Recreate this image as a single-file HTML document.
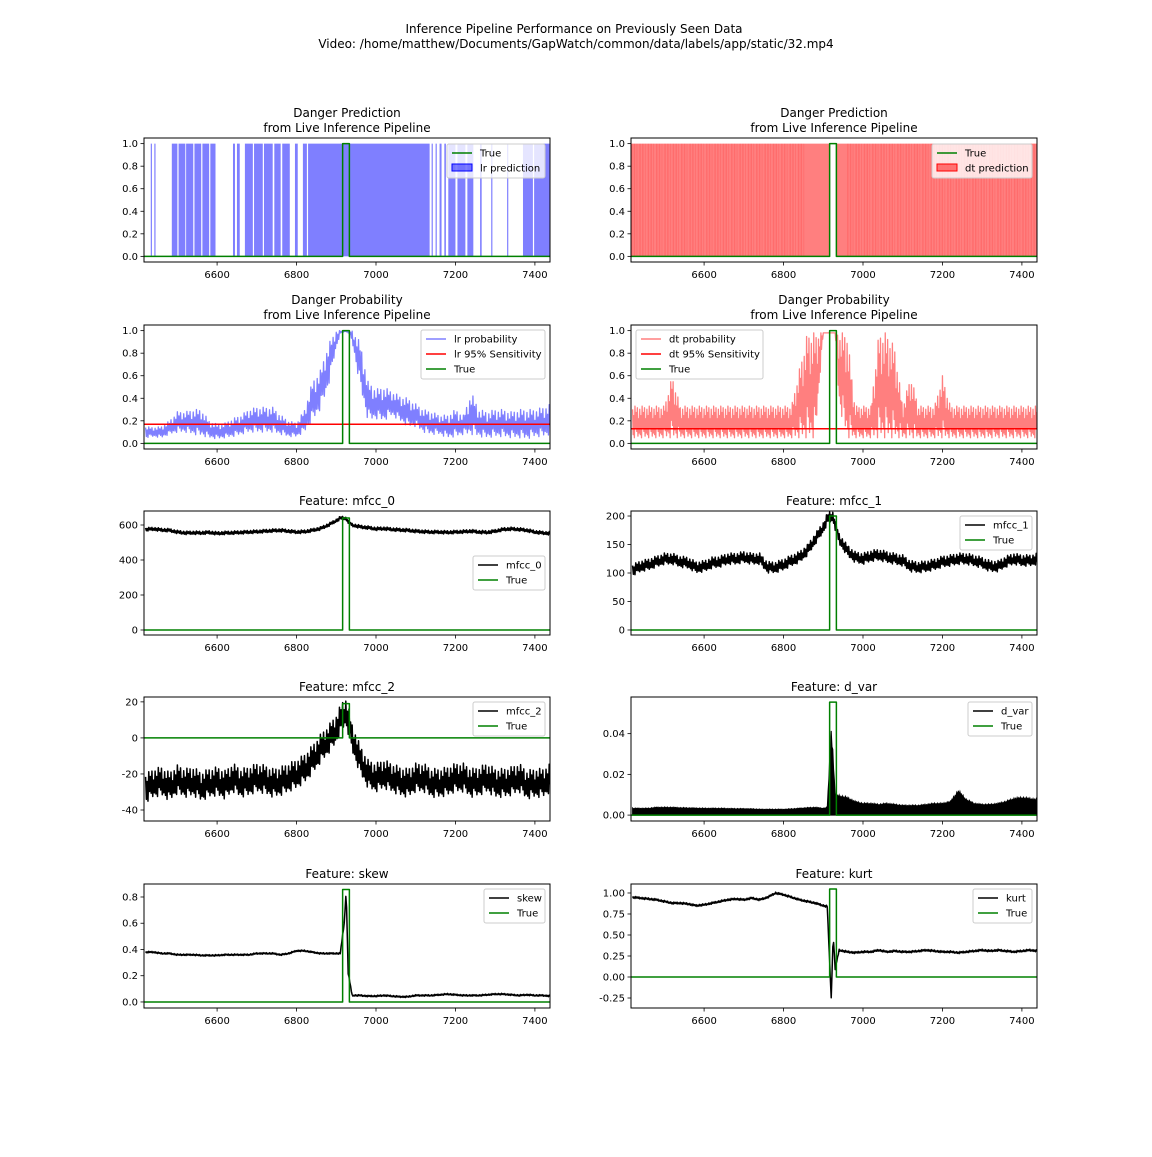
<!DOCTYPE html>
<html><head><meta charset="utf-8">
<style>
body{margin:0;background:#fff;}
svg text{font-family:"DejaVu Sans","Liberation Sans",sans-serif;fill:#000;}
</style></head>
<body>
<svg id="fig" width="1152" height="1152" viewBox="0 0 1152 1152" xmlns="http://www.w3.org/2000/svg">
<rect width="1152" height="1152" fill="#fff"/>
<text x="574" y="33" font-size="12" text-anchor="middle">Inference Pipeline Performance on Previously Seen Data</text>
<text x="576" y="48" font-size="12" text-anchor="middle">Video: /home/matthew/Documents/GapWatch/common/data/labels/app/static/32.mp4</text>
</svg>
<script>
const frames = [6420,6440,6460,6480,6500,6520,6540,6560,6580,6600,6620,6640,6660,6680,6700,6720,6740,6760,6780,6800,6820,6840,6860,6880,6900,
 6910,6920,6925,6930,
 6940,6960,6980,7000,7020,7040,7060,7080,7100,7120,7140,7160,7180,7200,7220,7240,7260,7280,7300,7320,7340,7360,7380,7400,7420,7440];
const trueStart = 6916, trueEnd = 6933;
const xTicks = [6600,6800,7000,7200,7400];
const lrSpans = [[6433,6436],[6442,6445],[6486,6500],[6503,6520],[6522,6540],[6543,6560],[6563,6580],[6583,6596],[6640,6645],[6650,6657],[6670,6690],[6693,6715],[6718,6740],[6744,6760],[6764,6783],[6796,6803],[6816,6826],[6829,7135],[7140,7143],[7150,7153],[7160,7165],[7172,7176],[7182,7200],[7205,7225],[7230,7245],[7262,7266],[7290,7293],[7330,7333],[7370,7395],[7398,7438]];
const dtSpans = [[6416,6916],[6933,7438]];
const dtDenseSpans = [[6416,6855],[6960,7438]];
const lrProbLo = [.05,.06,.05,.08,.1,.1,.08,.07,.05,.04,.05,.06,.08,.1,.1,.1,.1,.08,.06,.06,.1,.2,.3,.5,.85, .97,.99,.99,.98,
 .9,.5,.2,.22,.2,.25,.2,.15,.15,.1,.08,.08,.05,.06,.08,.08,.06,.05,.06,.06,.05,.05,.04,.06,.06,.08];
const lrProbHi = [.15,.14,.15,.2,.28,.28,.3,.3,.2,.17,.18,.22,.25,.3,.32,.32,.32,.25,.2,.18,.3,.55,.65,.88,1.0, 1,1,1,1,
 1,.9,.55,.48,.5,.46,.42,.4,.35,.3,.28,.25,.25,.3,.25,.45,.3,.28,.3,.3,.28,.3,.3,.3,.32,.35];
const lrSens = 0.17;
const dtProbLo = [.05,.05,.05,.05,.05,.05,.05,.05,.05,.05,.05,.05,.05,.05,.05,.05,.05,.05,.05,.05,.05,.05,.05,.05,.98, .98,.98,.98,.98,
 .33,.05,.05,.05,.05,.05,.05,.05,.05,.05,.05,.05,.05,.05,.05,.05,.05,.05,.05,.05,.05,.05,.05,.05,.05,.05];
const dtProbHi = [.33,.33,.33,.33,.33,.6,.33,.33,.33,.33,.33,.33,.33,.33,.33,.33,.33,.33,.33,.33,.33,.66,.98,.98,.98, .98,.98,.98,.98,
 .98,.98,.33,.33,.33,.98,.98,.85,.33,.6,.33,.33,.33,.6,.33,.33,.33,.33,.33,.33,.33,.33,.33,.33,.33,.33];
const dtSens = 0.13;
const mfcc0 = [575,578,572,570,560,555,556,555,558,552,555,556,558,560,562,565,568,570,565,560,562,570,580,600,625, 640,640,635,620,
 600,590,585,578,580,575,572,570,565,562,560,560,558,560,562,565,560,558,565,575,578,575,570,560,555,552];
const mfcc1 = [105,112,115,120,125,125,120,118,110,112,118,120,125,125,128,125,125,110,110,115,122,128,140,160,180, 195,200,198,185,
 160,140,128,125,130,132,128,125,122,112,110,112,115,120,122,125,125,122,118,112,112,120,125,122,122,125];
const mfcc2 = [-28,-25,-24,-27,-23,-25,-24,-27,-25,-24,-26,-22,-25,-24,-22,-23,-25,-24,-22,-20,-17,-12,-6,-1,5, 10,14,14,10,
 0,-12,-20,-22,-20,-22,-24,-25,-22,-22,-25,-25,-24,-22,-22,-25,-24,-22,-25,-25,-24,-22,-26,-25,-25,-22];
const dvar = [.0035,.0035,.0035,.004,.004,.004,.0038,.0037,.0036,.0035,.0035,.0035,.0034,.0033,.0033,.0032,.003,.003,.003,.003,.0032,.0035,.0038,.004,.0035, .004,.044,.03,.01,
 .01,.009,.007,.006,.006,.0055,.006,.0055,.005,.005,.005,.0055,.006,.006,.007,.0125,.008,.006,.0055,.0055,.006,.007,.0085,.009,.0085,.008];
const skew = [.38,.38,.37,.37,.36,.36,.36,.355,.355,.355,.36,.36,.36,.36,.37,.37,.37,.36,.37,.39,.39,.38,.37,.37,.37, .37,.6,.85,.22,
 .05,.05,.045,.045,.05,.045,.04,.04,.05,.05,.05,.055,.06,.055,.05,.05,.05,.055,.06,.06,.055,.05,.055,.05,.05,.045];
const kurt = [.95,.94,.93,.92,.9,.88,.88,.87,.85,.86,.88,.9,.92,.93,.92,.94,.92,.95,1.0,.98,.95,.92,.9,.88,.85, .84,-.25,.5,.1,
 .32,.3,.29,.3,.3,.32,.3,.31,.3,.3,.31,.32,.31,.3,.3,.29,.3,.31,.32,.31,.32,.31,.3,.31,.32,.31];

const NS='http://www.w3.org/2000/svg';
const svg=document.getElementById('fig');
const pattern=[0.9,0.1,0.7,0.0,1.0,0.3,0.8,0.2,0.95,0.05,0.6,0.15];
function mk(tag,attrs,parent){const e=document.createElementNS(NS,tag);for(const k in attrs)e.setAttribute(k,attrs[k]);(parent||svg).appendChild(e);return e;}
function lerpArr(arr,x){for(let i=0;i<frames.length-1;i++){if(x<=frames[i+1]){const t=(x-frames[i])/(frames[i+1]-frames[i]);return arr[i]+(arr[i+1]-arr[i])*t;}}return arr[arr.length-1];}
function noisePts(lo,hi,step){const pts=[];let k=0;for(let x=frames[0];x<=frames[frames.length-1];x+=step){const a=lerpArr(lo,x),b=lerpArr(hi,x);pts.push([x,a+(b-a)*pattern[k%pattern.length]]);k++;}return pts;}

function makeAxes(cfg){
  const g=mk('g',{});
  
  
  const X0=cfg.x,X1=cfg.x+406,Y0=cfg.y,Y1=cfg.y+124;
  const xmin=6416,xmax=7438;
  const sx=v=>X0+(v-xmin)/(xmax-xmin)*(X1-X0);
  const sy=v=>Y1-(v-cfg.ymin)/(cfg.ymax-cfg.ymin)*(Y1-Y0);
  const clipId='clip-'+cfg.name;
  const cp=mk('clipPath',{id:clipId},g);mk('rect',{x:X0,y:Y0,width:X1-X0,height:Y1-Y0},cp);
  const plot=mk('g',{'clip-path':'url(#'+clipId+')'},g);
  
  
  return {g,plot,sx,sy,X0,X1,Y0,Y1,cfg};
}
function line(ax,pts,color,w,name){
  const d=pts.map((p,i)=>(i?'L':'M')+ax.sx(p[0]).toFixed(2)+' '+ax.sy(p[1]).toFixed(2)).join(' ');
  const p=mk('path',{d,fill:'none',stroke:color,'stroke-width':w,'stroke-linejoin':'round'},ax.plot);
  
  
  return p;
}
function truePts(top){return [[6416,0],[trueStart,0],[trueStart,top],[trueEnd,top],[trueEnd,0],[7438,0]];}
function finish(ax,title,yticks,yfmt,legend){
  const {g,sx,sy,X0,X1,Y0,Y1}=ax;
  const fr=mk('rect',{x:X0,y:Y0,width:X1-X0,height:Y1-Y0,fill:'none',stroke:'#000','stroke-width':1},g);
  
  
  xTicks.forEach(v=>{const x=sx(v);mk('line',{x1:x,x2:x,y1:Y1,y2:Y1+3.5,stroke:'#000','stroke-width':0.8},g);
    const t=mk('text',{x:x,y:Y1+16,'font-size':10,'text-anchor':'middle'},g);t.textContent=v;
    
    });
  yticks.forEach(v=>{const y=sy(v);mk('line',{x1:X0,x2:X0-3.5,y1:y,y2:y,stroke:'#000','stroke-width':0.8},g);
    const t=mk('text',{x:X0-6,y:y+3.5,'font-size':10,'text-anchor':'end'},g);t.textContent=yfmt(v);
    
    });
  const cx=(X0+X1)/2;
  title.forEach((s,i)=>{const t=mk('text',{x:cx,y:Y0-6-(title.length-1-i)*15,'font-size':12,'text-anchor':'middle'},g);t.textContent=s;
    
    });
  const L=legend;
  const h=legend.items.length*15+4;
  const lg=mk('g',{},g);
  
  
  mk('rect',{x:L.x,y:L.y,width:L.w,height:h,rx:2,fill:'rgba(255,255,255,0.8)',stroke:'#cccccc','stroke-width':1},lg);
  L.items.forEach((it,i)=>{const cy=L.y+9+i*15;
    if(it.patch){mk('rect',{x:L.x+5,y:cy-4,width:20,height:7,fill:it.color,stroke:it.edge,'stroke-width':1},lg);}
    else mk('line',{x1:L.x+5,x2:L.x+25,y1:cy,y2:cy,stroke:it.color,'stroke-width':1.5},lg);
    const t=mk('text',{x:L.x+33,y:cy+3.5,'font-size':10},lg);t.textContent=it.label;
    
    });
}
const f1=v=>v.toFixed(1), f0=v=>String(v), f2=v=>v.toFixed(2);
const G='#008000';
const probTicks=[0,0.2,0.4,0.6,0.8,1.0];

// Row 1 left: lr prediction
let ax=makeAxes({name:'lr-prediction-panel',x:144,y:138,ymin:-0.05,ymax:1.05});
lrSpans.forEach(s=>{const r=mk('rect',{x:ax.sx(s[0]),y:ax.sy(1),width:Math.max(0.8,ax.sx(s[1])-ax.sx(s[0])),height:ax.sy(0)-ax.sy(1),fill:'rgba(0,0,255,0.5)'},ax.plot);
 
 });
line(ax,truePts(1),G,1.5,'true-line');
finish(ax,['Danger Prediction','from Live Inference Pipeline'],probTicks,f1,{x:447,y:144,w:98,items:[{label:'True',color:G},{label:'lr prediction',color:'rgba(0,0,255,0.5)',edge:'#0000ff',patch:1}]});

// Row 1 right: dt prediction
ax=makeAxes({name:'dt-prediction-panel',x:631,y:138,ymin:-0.05,ymax:1.05});
dtSpans.forEach(s=>{const r=mk('rect',{x:ax.sx(s[0]),y:ax.sy(1),width:ax.sx(s[1])-ax.sx(s[0]),height:ax.sy(0)-ax.sy(1),fill:'rgba(255,0,0,0.5)'},ax.plot);
 
 });
dtDenseSpans.forEach(s=>{for(let x=s[0];x<s[1];x+=7){const w=(x/7)%3<1?0.8:1.4;const r=mk('rect',{x:ax.sx(x),y:ax.sy(1),width:w,height:ax.sy(0)-ax.sy(1),fill:'rgba(255,0,0,0.15)'},ax.plot);
 
 }});
line(ax,truePts(1),G,1.5,'true-line');
finish(ax,['Danger Prediction','from Live Inference Pipeline'],probTicks,f1,{x:932,y:144,w:100,items:[{label:'True',color:G},{label:'dt prediction',color:'rgba(255,0,0,0.5)',edge:'#ff0000',patch:1}]});

// Row 2 left: lr probability
ax=makeAxes({name:'lr-probability-panel',x:144,y:325,ymin:-0.05,ymax:1.05});
line(ax,noisePts(lrProbLo,lrProbHi,2),'rgba(0,0,255,0.5)',1.3,'lr-probability-line');
line(ax,[[6416,lrSens],[7438,lrSens]],'#ff0000',1.5,'lr-sensitivity-line');
line(ax,truePts(1),G,1.5,'true-line');
finish(ax,['Danger Probability','from Live Inference Pipeline'],probTicks,f1,{x:421,y:330,w:124,items:[{label:'lr probability',color:'rgba(0,0,255,0.5)'},{label:'lr 95% Sensitivity',color:'#ff0000'},{label:'True',color:G}]});

// Row 2 right: dt probability
ax=makeAxes({name:'dt-probability-panel',x:631,y:325,ymin:-0.05,ymax:1.05});
line(ax,noisePts(dtProbLo,dtProbHi,1.5),'rgba(255,0,0,0.5)',1.3,'dt-probability-line');
line(ax,[[6416,dtSens],[7438,dtSens]],'#ff0000',1.5,'dt-sensitivity-line');
line(ax,truePts(1),G,1.5,'true-line');
finish(ax,['Danger Probability','from Live Inference Pipeline'],probTicks,f1,{x:636,y:330,w:127,items:[{label:'dt probability',color:'rgba(255,0,0,0.5)'},{label:'dt 95% Sensitivity',color:'#ff0000'},{label:'True',color:G}]});

function band(arr,amp){return [arr.map(v=>v-amp),arr.map(v=>v+amp)];}

// mfcc_0
ax=makeAxes({name:'mfcc0-panel',x:144,y:511,ymin:-28.6,ymax:680});
let b=band(mfcc0,10);line(ax,noisePts(b[0],b[1],2),'#000',1.5,'mfcc0-line');
line(ax,truePts(640),G,1.5,'true-line');
finish(ax,['Feature: mfcc_0'],[0,200,400,600],f0,{x:473,y:556,w:72,items:[{label:'mfcc_0',color:'#000'},{label:'True',color:G}]});

// mfcc_1
ax=makeAxes({name:'mfcc1-panel',x:631,y:511,ymin:-8.8,ymax:208.8});
b=band(mfcc1,10);line(ax,noisePts(b[0],b[1],2),'#000',1.5,'mfcc1-line');
line(ax,truePts(200),G,1.5,'true-line');
finish(ax,['Feature: mfcc_1'],[0,50,100,150,200],f0,{x:960,y:516,w:72,items:[{label:'mfcc_1',color:'#000'},{label:'True',color:G}]});

// mfcc_2
ax=makeAxes({name:'mfcc2-panel',x:144,y:697,ymin:-46.1,ymax:22.7});
b=band(mfcc2,8);line(ax,noisePts(b[0],b[1],2),'#000',1.5,'mfcc2-line');
line(ax,[[6416,0],[trueStart,0],[trueStart,19],[trueEnd,19],[trueEnd,0],[7438,0]],G,1.5,'true-line');
finish(ax,['Feature: mfcc_2'],[-40,-20,0,20],f0,{x:473,y:702,w:72,items:[{label:'mfcc_2',color:'#000'},{label:'True',color:G}]});

// d_var
ax=makeAxes({name:'dvar-panel',x:631,y:697,ymin:-0.0029,ymax:0.058});
{const pts=noisePts(dvar.map(v=>v*0.85),dvar,2);
 const d='M'+ax.sx(pts[0][0])+' '+ax.sy(0)+' '+pts.map(p=>'L'+ax.sx(p[0]).toFixed(2)+' '+ax.sy(p[1]).toFixed(2)).join(' ')+' L'+ax.sx(pts[pts.length-1][0])+' '+ax.sy(0)+'Z';
 const p=mk('path',{d,fill:'#000',stroke:'#000','stroke-width':1},ax.plot);
 
 }
line(ax,truePts(0.0555),G,1.5,'true-line');
finish(ax,['Feature: d_var'],[0,0.02,0.04],f2,{x:968,y:702,w:64,items:[{label:'d_var',color:'#000'},{label:'True',color:G}]});

// skew
ax=makeAxes({name:'skew-panel',x:144,y:884,ymin:-0.046,ymax:0.899});
b=band(skew,0.006);line(ax,noisePts(b[0],b[1],2),'#000',1.5,'skew-line');
line(ax,truePts(0.857),G,1.5,'true-line');
finish(ax,['Feature: skew'],[0,0.2,0.4,0.6,0.8],f1,{x:484,y:889,w:61,items:[{label:'skew',color:'#000'},{label:'True',color:G}]});

// kurt
ax=makeAxes({name:'kurt-panel',x:631,y:884,ymin:-0.369,ymax:1.107});
b=band(kurt,0.012);line(ax,noisePts(b[0],b[1],2),'#000',1.5,'kurt-line');
line(ax,truePts(1.048),G,1.5,'true-line');
finish(ax,['Feature: kurt'],[-0.25,0,0.25,0.5,0.75,1.0],f2,{x:973,y:889,w:59,items:[{label:'kurt',color:'#000'},{label:'True',color:G}]});
</script>
</body></html>
